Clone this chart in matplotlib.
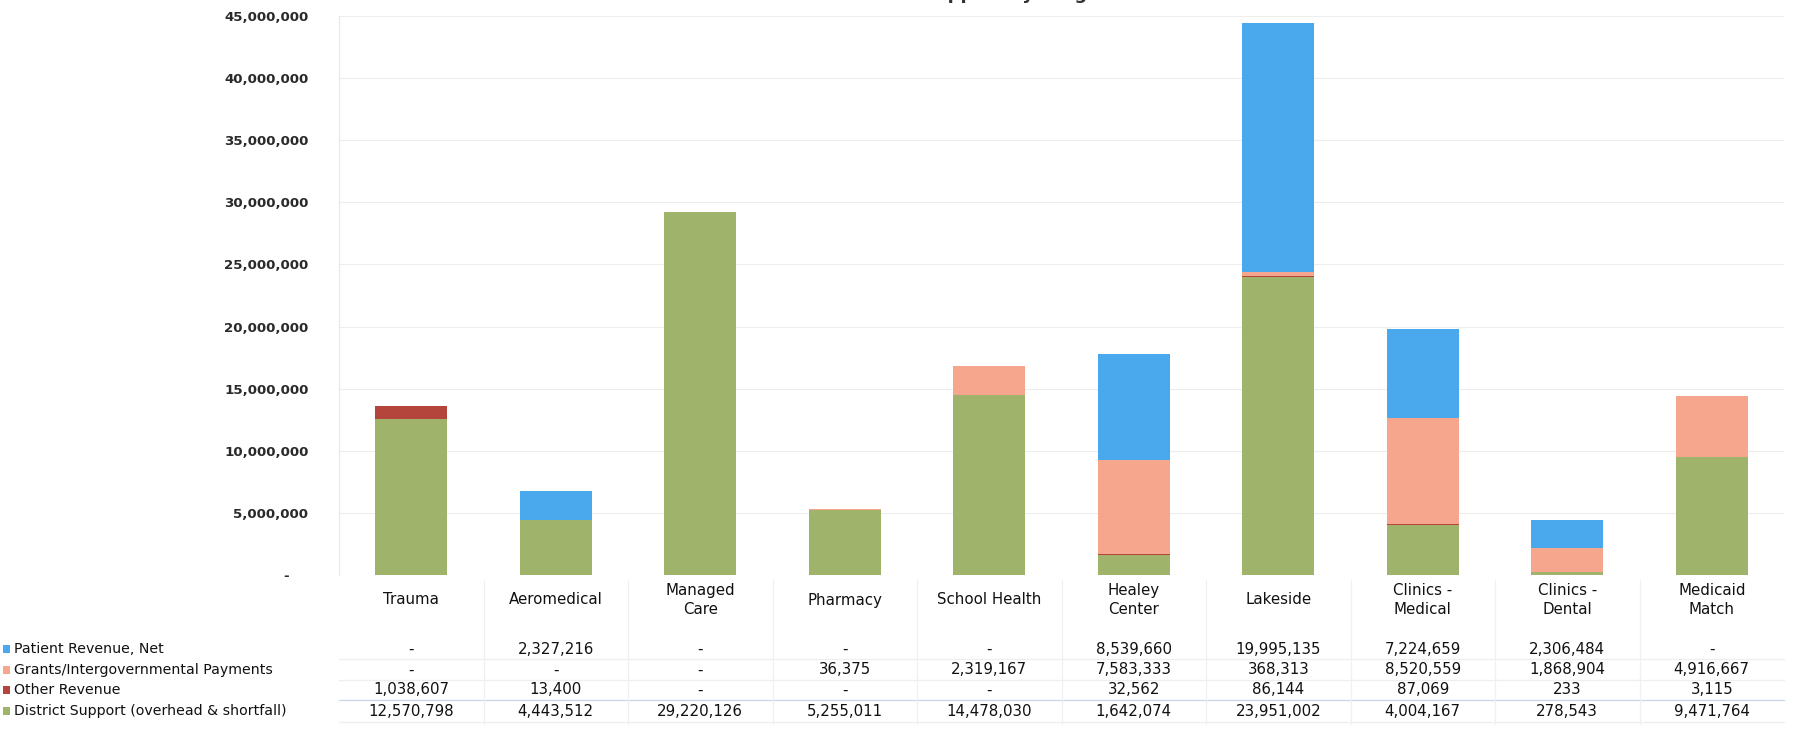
import numpy as np
import matplotlib.pyplot as plt
from matplotlib.lines import Line2D
from matplotlib.patches import Rectangle
from matplotlib.ticker import FuncFormatter
import matplotlib.transforms as mtransforms

programs = ["Trauma", "Aeromedical", "Managed\nCare", "Pharmacy", "School Health",
            "Healey\nCenter", "Lakeside", "Clinics -\nMedical", "Clinics -\nDental",
            "Medicaid\nMatch"]

patient_revenue = [0, 2327216, 0, 0, 0, 8539660, 19995135, 7224659, 2306484, 0]
grants = [0, 0, 0, 36375, 2319167, 7583333, 368313, 8520559, 1868904, 4916667]
other_revenue = [1038607, 13400, 0, 0, 0, 32562, 86144, 87069, 233, 3115]
district_support = [12570798, 4443512, 29220126, 5255011, 14478030, 1642074,
                    23951002, 4004167, 278543, 9471764]

series_names = ["Patient Revenue, Net", "Grants/Intergovernmental Payments",
                "Other Revenue", "District Support (overhead & shortfall)"]
series_values = [patient_revenue, grants, other_revenue, district_support]
series_colors = ["#4aa8ec", "#f6a68c", "#b4453c", "#9fb36b"]

y_ticks = np.arange(0, 45000001, 5000000)

plt.rcParams["font.family"] = ["DejaVu Sans"]

W, H = 1801, 734
fig = plt.figure(figsize=(W / 100, H / 100), dpi=100)

left, right, top, base = 339, 1784, 16, 575
ax = fig.add_axes([left / W, 1 - base / H, (right - left) / W, (base - top) / H])

x = np.arange(len(programs))
# stack from the bottom: district support, other, grants, patient revenue
bottom = np.zeros(len(programs))
for name, vals, col in list(zip(series_names, series_values, series_colors))[::-1]:
    vals = np.array(vals, dtype=float)
    ax.bar(x, vals, width=0.5, bottom=bottom, color=col, edgecolor="none", zorder=2)
    bottom += vals

ax.set_xlim(-0.5, len(programs) - 0.5)
ax.set_ylim(0, 45000000)
ax.set_yticks(y_ticks)
ax.yaxis.set_major_formatter(FuncFormatter(lambda v, p: "-    " if v == 0 else f"{int(v):,}"))
ax.tick_params(axis="y", length=0, pad=22, labelsize=9.6, labelcolor="#2a2a2a")
for lab in ax.get_yticklabels():
    lab.set_fontweight("bold")
ax.set_xticks([])
ax.grid(axis="y", color="#ededed", linewidth=0.8, zorder=0)
for s in ["top", "right", "bottom"]:
    ax.spines[s].set_visible(False)
ax.spines["left"].set_color("#e8e8e8")

# title, mostly outside the top edge of the figure
fig.text(887 / W, 1 + 1 / H, "Total Revenue and District Support by Program",
         ha="center", va="baseline", fontsize=13, fontweight="bold", color="#333333")

# data table under the chart
tr = mtransforms.blended_transform_factory(ax.transData, fig.transFigure)


def fy(px):
    return 1 - px / H


for i, name in enumerate(programs):
    ax.text(i, fy(600), name, transform=tr, ha="center", va="center",
            fontsize=10.8, color="#111111", linespacing=1.35, clip_on=False)

row_y = [649, 670, 690, 711]


def fmt(v):
    return "-" if v == 0 else f"{v:,}"


for r, (name, vals, col) in enumerate(zip(series_names, series_values, series_colors)):
    yy = row_y[r]
    fig.patches.append(Rectangle((3 / W, fy(yy + 4)), 7 / W, 8 / H, transform=fig.transFigure,
                                 facecolor=col, edgecolor="none"))
    fig.text(14 / W, fy(yy), name, ha="left", va="center", fontsize=10.2, color="#111111")
    for i, v in enumerate(vals):
        ax.text(i, fy(yy), fmt(v), transform=tr, ha="center", va="center",
                fontsize=10.8, color="#111111", clip_on=False)

# table grid lines
for px, col in [(659, "#efefef"), (680, "#efefef"), (700, "#c9d6ea"), (722, "#efefef")]:
    fig.lines.append(Line2D([left / W, right / W], [fy(px), fy(px)], transform=fig.transFigure,
                            color=col, linewidth=0.9))
for i in range(1, len(programs)):
    xb = ax.transData.transform((i - 0.5, 0))[0] / W
    fig.lines.append(Line2D([xb, xb], [fy(580), fy(724)], transform=fig.transFigure,
                            color="#f0f0f0", linewidth=0.9))

fig.savefig("out.png", dpi=100, facecolor="white")
